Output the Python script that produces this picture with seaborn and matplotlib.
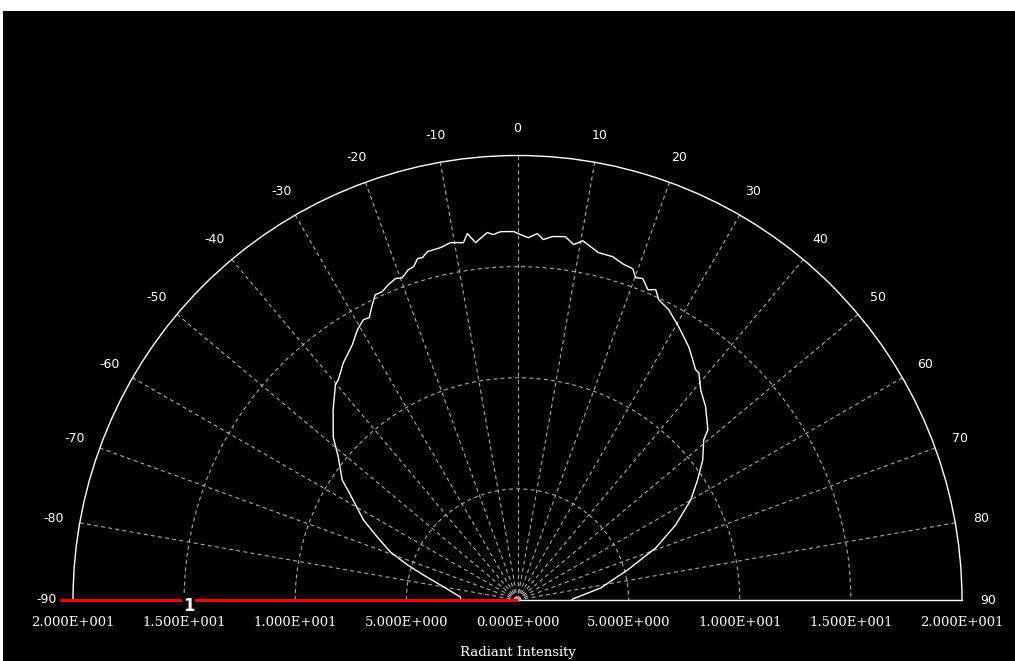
import numpy as np
import pandas as pd
import matplotlib
matplotlib.use("Agg")
import matplotlib.pyplot as plt
from matplotlib.patches import Rectangle
import seaborn as sns

# Measured radiant intensity versus emission angle (degrees)
angle_deg = [-90.0, -87.0, -79.0, -75.1, -72.3, -69.3, -65.8, -62.5, -57.8, -55.6,
             -51.4, -48.5, -44.1, -40.2, -39.1, -36.3, -32.9, -30.6, -28.8, -27.7,
             -26.3, -25.0, -23.7, -22.3, -20.8, -19.7, -18.3, -17.3, -16.3, -15.5,
             -14.5, -12.3, -10.6, -8.6, -7.8, -6.7, -4.7, -3.8, -2.6, -0.6,
             0.5, 1.7, 3.1, 4.1, 5.5, 7.5, 9.0, 10.3, 13.1, 15.5,
             17.4, 19.2, 20.1, 21.3, 22.8, 24.0, 25.2, 27.5, 30.5, 34.1,
             36.1, 37.7, 38.6, 41.1, 44.2, 48.2, 49.3, 52.9, 56.3, 60.0,
             64.6, 69.4, 74.7, 81.8, 89.0, 90.0]
intensity = [2.55, 2.57, 3.53, 4.38, 5.20, 6.12, 6.92, 7.82, 8.89, 9.56,
             10.32, 11.07, 11.92, 12.69, 12.78, 13.24, 13.68, 14.14, 14.39, 14.35,
             14.77, 15.15, 15.15, 15.33, 15.47, 15.40, 15.65, 15.71, 16.01, 15.99,
             16.19, 16.23, 16.36, 16.26, 16.64, 16.19, 16.59, 16.48, 16.59, 16.58,
             16.44, 16.31, 16.51, 16.26, 16.43, 16.49, 16.19, 16.43, 16.05, 16.03,
             15.85, 15.78, 15.45, 15.52, 15.14, 15.29, 14.93, 14.73, 14.28, 13.75,
             13.38, 13.10, 13.08, 12.54, 12.14, 11.49, 11.05, 10.45, 9.74, 9.00,
             7.88, 6.64, 5.14, 3.78, 2.48, 2.45]

angle_ticks = list(range(-90, 91, 10))
radius_ticks = [0, 5, 10, 15, 20]
radius_labels = ["0.000E+000", "5.000E+000", "1.000E+001", "1.500E+001", "2.000E+001"]
axis_title = "Radiant Intensity"
series_name = "1"
r_max = 20

W, H = 1015, 661
fig = plt.figure(figsize=(W / 100, H / 100), dpi=100, facecolor="white")
fig.patches.append(Rectangle((3 / W, 0), 1 - 3 / W, 1 - 11 / H,
                             transform=fig.transFigure, facecolor="black",
                             edgecolor="none", zorder=-10))

# The half-disc is fitted into a square box centred on the wedge
cx, cy, R = 517.5, 600.0, 444.5
side = 2 * R
box_cy = cy - R / 2
ax = fig.add_axes([(cx - side / 2) / W, (H - (box_cy + side / 2)) / H,
                   side / W, side / H], projection="polar")
ax.set_facecolor("none")
ax.set_theta_zero_location("N")
ax.set_theta_direction(-1)
ax.set_thetamin(-90)
ax.set_thetamax(90)

df = pd.DataFrame({"theta": np.radians(angle_deg), "r": intensity})
sns.lineplot(data=df, x="theta", y="r", sort=False, estimator=None,
             color="white", linewidth=1.0, ax=ax, zorder=5)
ax.set_xlabel("")
ax.set_ylabel("")
ax.set_ylim(0, r_max)

# Dashed polar grid
grid_style = dict(color="#a9a9a9", linewidth=0.8, linestyle=(0, (3.5, 3)))
ax.set_xticks(np.radians(range(-80, 81, 10)))
ax.set_xticklabels([])
ax.set_yticks([5, 10, 15])
ax.set_yticklabels([])
ax.grid(True, **grid_style)
ax.tick_params(length=0)

for name in ("polar", "start", "end"):
    ax.spines[name].set_color("white")
    ax.spines[name].set_linewidth(1.0)
ax.spines["inner"].set_visible(False)

# Series marker along the -90 baseline
ax.plot([np.radians(-90), np.radians(-90)], [0, 20.6], color="#ff0000",
        linewidth=2.3, clip_on=False, zorder=6, solid_capstyle="butt")
ax.annotate(series_name, (np.radians(-90), 14.8), xytext=(0, -4),
            textcoords="offset points", color="white", fontsize=12,
            fontweight="bold", family="DejaVu Sans", ha="center", va="center",
            bbox=dict(facecolor="black", edgecolor="none", pad=0.6),
            zorder=7, annotation_clip=False)

# Angle labels outside the arc
for a in angle_ticks:
    ax.text(np.radians(a), 21.2, f"{a}", color="white", fontsize=9,
            family="DejaVu Sans", ha="center", va="center", clip_on=False)

# Intensity labels below the baseline, mirrored on both sides
for s in (-90, 90):
    for rv, lab in zip(radius_ticks, radius_labels):
        if s == 90 and rv == 0:
            continue
        ax.annotate(lab, (np.radians(s), rv), xytext=(0, -16),
                    textcoords="offset points", color="white", fontsize=9.5,
                    family="DejaVu Serif", ha="center", va="center",
                    annotation_clip=False)

ax.annotate(axis_title, (0, 0), xytext=(0, -37.5), textcoords="offset points",
            color="white", fontsize=9.5, family="DejaVu Serif",
            ha="center", va="center", annotation_clip=False)

fig.savefig("out.png", dpi=100, facecolor=fig.get_facecolor())
